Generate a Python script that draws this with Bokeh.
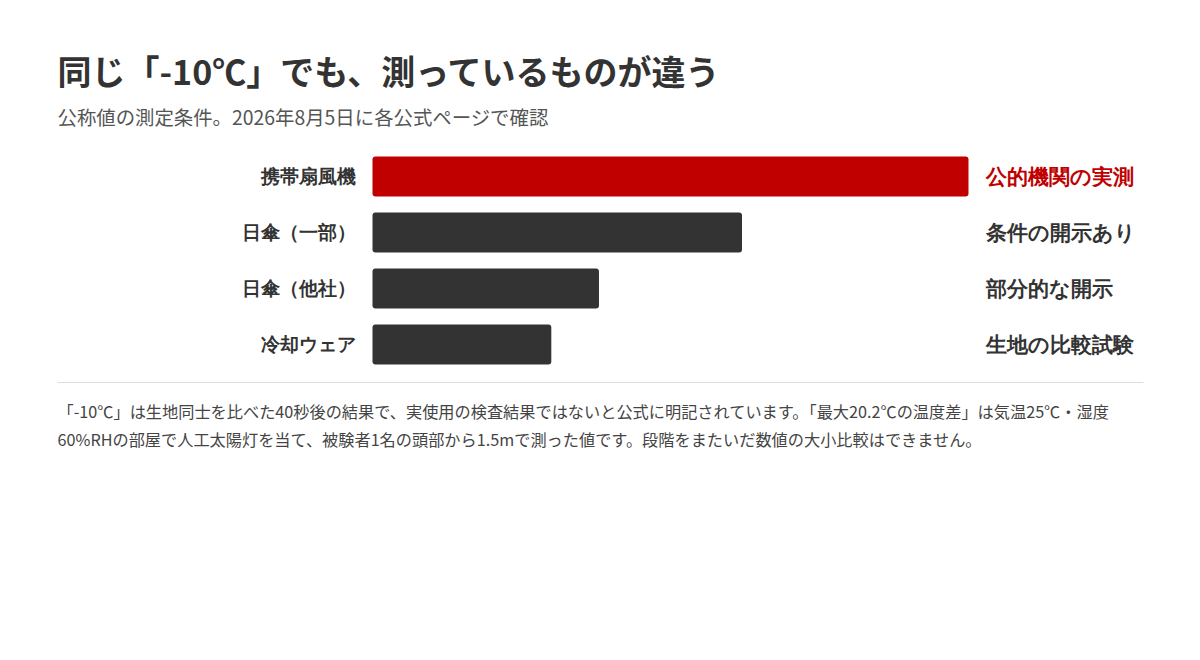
from bokeh.plotting import figure
from bokeh.models import ColumnDataSource, Range1d, Label, BoxAnnotation
from bokeh.embed import file_html
from bokeh.resources import INLINE

# data (relative bar lengths, top bar = 100)
categories = ["携帯扇風機", "日傘（一部）", "日傘（他社）", "冷却ウェア"]
values = [100, 62, 38, 30]
notes = ["公的機関の実測", "条件の開示あり", "部分的な開示", "生地の比較試験"]
bar_colors = ["#c00000", "#333333", "#333333", "#333333"]
note_colors = ["#c00000", "#333333", "#333333", "#333333"]

TITLE = "同じ「-10℃」でも、測っているものが違う"
SUBTITLE = "公称値の測定条件。2026年8月5日に各公式ページで確認"
FOOTNOTE = [
    "「-10℃」は生地同士を比べた40秒後の結果で、実使用の検査結果ではないと公式に明記されています。「最大20.2℃の温度差」は気温25℃・湿度",
    "60%RHの部屋で人工太陽灯を当て、被験者1名の頭部から1.5mで測った値です。段階をまたいだ数値の大小比較はできません。",
]

FONT = "Noto Sans CJK JP"
W, H = 1190, 650

# bar zone: value 0 at x 372, value 100 at x 968
px_per_unit = 596 / 100
x0 = -372 / px_per_unit
x1 = x0 + W / px_per_unit
# rows: first bar centred at y 176, 56 px pitch
y_top = -176 / 56
y_bottom = y_top + H / 56

src = ColumnDataSource(dict(
    y=list(range(len(categories))),
    value=values,
    cat=categories,
    note=notes,
    color=bar_colors,
    note_color=note_colors,
    zero=[0] * len(values),
    right=[max(values)] * len(values),
))

p = figure(width=W, height=H, output_backend="svg", toolbar_location=None,
           x_range=Range1d(x0, x1), y_range=Range1d(y_bottom, y_top),
           min_border=0, outline_line_color=None)
p.axis.visible = False
p.grid.visible = False
p.background_fill_color = "white"
p.border_fill_color = "white"

p.hbar(y="y", left=0, right="value", height=40 / 56, color="color",
       line_color=None, border_radius=3, source=src)

p.text(x="zero", y="y", text="cat", source=src, x_offset=-17,
       text_align="right", text_baseline="middle", text_font=FONT,
       text_font_size="18.5px", text_font_style="bold", text_color="#333333")

p.text(x="right", y="y", text="note", source=src, x_offset=17,
       text_align="left", text_baseline="middle", text_font=FONT,
       text_font_size="21px", text_font_style="bold", text_color="note_color")

p.add_layout(Label(x=57, y=H - 70, x_units="screen", y_units="screen", text=TITLE,
                   text_font=FONT, text_font_size="34px", text_font_style="bold",
                   text_color="#333333", text_baseline="middle"))
p.add_layout(Label(x=57, y=H - 116, x_units="screen", y_units="screen", text=SUBTITLE,
                   text_font=FONT, text_font_size="19.4px", text_color="#555555",
                   text_baseline="middle"))

p.add_layout(BoxAnnotation(left=57, right=1143, bottom=H - 382.5, top=H - 381.5,
                           left_units="screen", right_units="screen",
                           bottom_units="screen", top_units="screen",
                           fill_color="#dddddd", fill_alpha=1, line_color=None))

for i, line in enumerate(FOOTNOTE):
    p.add_layout(Label(x=57, y=H - 410 - 28 * i, x_units="screen", y_units="screen",
                       text=line, text_font=FONT, text_font_size="16.2px",
                       text_color="#444444", text_baseline="middle"))

open("out.html", "w").write(file_html(p, INLINE))
